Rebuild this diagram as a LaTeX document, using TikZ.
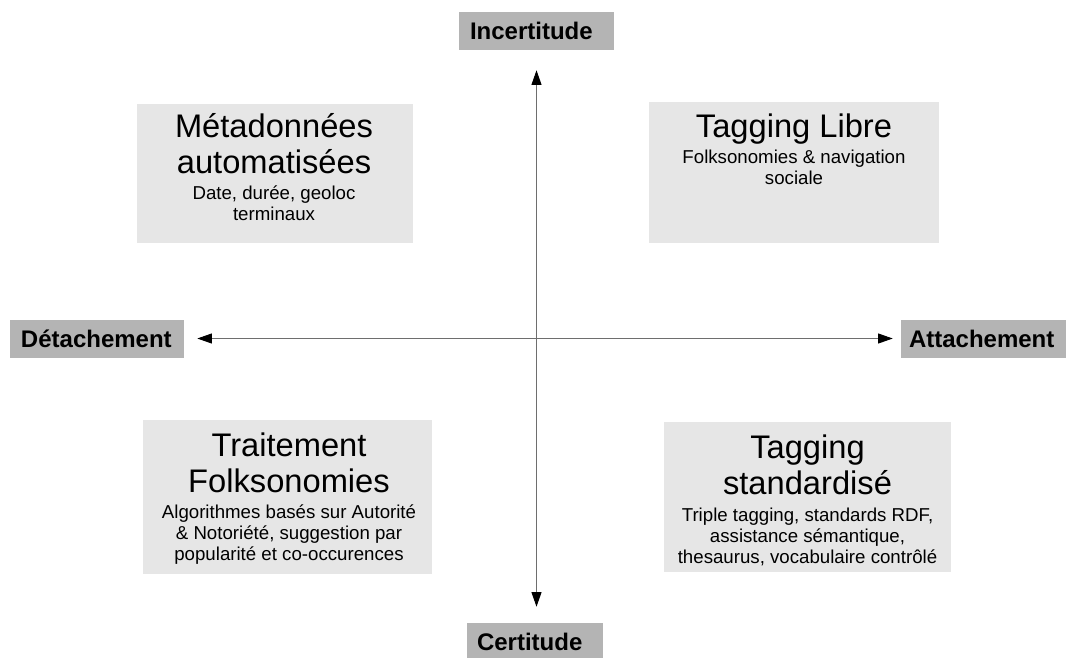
\documentclass[tikz,border=0pt]{standalone}
\usepackage{fontspec}
\setmainfont{Liberation Sans}
\usetikzlibrary{arrows.meta}
\definecolor{boxgray}{RGB}{230,230,230}
\definecolor{axisgray}{RGB}{180,180,180}
\definecolor{linegray}{RGB}{110,110,110}
\tikzset{>={Triangle[width=7.5pt,length=11pt,color=black]}}

\begin{document}
\begin{tikzpicture}[x=0.75pt,y=-0.75pt]
\tikzstyle{axis}=[fill=axisgray,font=\fontsize{18}{18}\selectfont\bfseries,inner ysep=0,minimum height=28.5pt,align=left]
\tikzstyle{quad}=[fill=boxgray,inner sep=0]
\tikzstyle{title}=[align=center,inner sep=0,anchor=base,font=\fontsize{24.5}{27}\selectfont]
\tikzstyle{sub}=[align=center,inner sep=0,anchor=base,font=\fontsize{14}{15.75}\selectfont]
\useasboundingbox (0,0) rectangle (1066,657);

    % quadrants
    \node[quad,minimum width=207pt,minimum height=104.25pt] (tl) at (275,173.5){};
    \node[quad,minimum width=217.5pt,minimum height=105.75pt] (tr) at (794,172.5){};
    \node[quad,minimum width=216.75pt,minimum height=115.5pt] (bl) at (287.5,497){};
    \node[quad,minimum width=215.25pt,minimum height=112.5pt] (br) at (807.5,497){};

    % texts (base = last line)
    \node[title] (tl title) at (274,173){Métadonnées\\automatisées};
    \node[sub] (tl sub) at (274,220){Date, durée, geoloc\\terminaux};
    \node[title] (tr title) at (794,137){Tagging Libre};
    \node[sub] (tr sub) at (794,184){Folksonomies \& navigation\\sociale};
    \node[title] (bl title) at (289,492){Traitement\\Folksonomies};
    \node[sub] (bl sub) at (289,560){Algorithmes basés sur Autorité\\\& Notoriété, suggestion par\\popularité et co-occurences};
    \node[title] (br title) at (807.5,494){Tagging\\standardisé};
    \node[sub] (br sub) at (807.5,563){Triple tagging, standards RDF,\\assistance sémantique,\\thesaurus, vocabulaire contrôlé};

    % axes
    \node[axis,inner xsep=8.25pt,text width=99.75pt] (inc) at (536.5,31){Incertitude};
    \node[axis,inner xsep=7.5pt,text width=87pt] (cert) at (535,642){Certitude};
    \node[axis,inner xsep=8.25pt,text width=114pt] (det) at (97,338.5){Détachement};
    \node[axis,inner xsep=6pt,text width=118.5pt] (att) at (988,338.5){Attachement};

    \draw[<->,draw=linegray,line width=0.75pt,shorten <=15pt,shorten >=12pt] (inc.south) -- (inc.south |- cert.north);
    \draw[<->,draw=linegray,line width=0.75pt,shorten <=9.75pt,shorten >=6pt] (det.east) -- (det.east -| att.west);

\end{tikzpicture}
\end{document}
